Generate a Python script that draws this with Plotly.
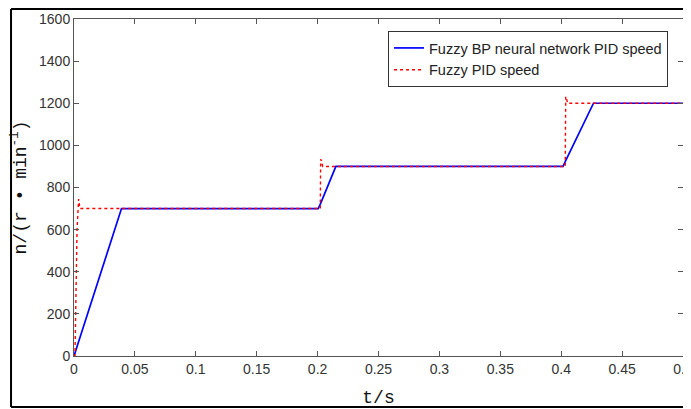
import plotly.graph_objects as go

# Fuzzy BP neural network PID speed
blue_t = [0, 0.039, 0.2005, 0.2025, 0.215, 0.4015, 0.4035, 0.4265, 0.5]
blue_v = [0, 700, 700, 725, 900, 900, 925, 1200, 1200]

# Fuzzy PID speed
red_t = [0, 0.0008, 0.0025, 0.0038, 0.0048, 0.2022, 0.2025, 0.2032, 0.2042, 0.4033, 0.4037, 0.4043, 0.4052, 0.5]
red_v = [0, 0, 600, 745, 700, 700, 934, 928, 900, 900, 1232, 1226, 1200, 1200]

x_ticks = [0, 0.05, 0.1, 0.15, 0.2, 0.25, 0.3, 0.35, 0.4, 0.45, 0.5]
x_tick_text = ["0", "0.05", "0.1", "0.15", "0.2", "0.25", "0.3", "0.35", "0.4", "0.45", "0.5"]
y_ticks = [0, 200, 400, 600, 800, 1000, 1200, 1400, 1600]

fig = go.Figure()
fig.add_trace(go.Scatter(x=blue_t, y=blue_v, mode="lines",
                         name="Fuzzy BP neural network PID speed",
                         line=dict(color="#0000ff", width=1.7)))
fig.add_trace(go.Scatter(x=red_t, y=red_v, mode="lines",
                         name="Fuzzy PID speed",
                         line=dict(color="#ff0000", width=1.4, dash="dot")))

axis_common = dict(showgrid=False, zeroline=False, showline=True, linecolor="#555555",
                   linewidth=1, mirror="ticks", ticks="inside", ticklen=5, automargin=False,
                   tickcolor="#555555", ticklabeloverflow="allow",
                   tickfont=dict(family="Liberation Sans, Arial", size=14, color="#333333"))

title_font = dict(family="Liberation Mono, Courier New", size=18, color="#111111")

fig.update_xaxes(range=[0, 0.5], tickvals=x_ticks, ticktext=x_tick_text,
                 title=dict(text="t/s", font=title_font, standoff=14),
                 **axis_common)
fig.update_yaxes(range=[0, 1600], tickvals=y_ticks,
                 title=dict(text="n/(r • min<sup>-1</sup>)", font=title_font, standoff=12),
                 **axis_common)

# page body has an 8px margin; figure sized/offset so the plot area lands where the reference has it
fig.update_layout(
    width=683, height=401,
    margin=dict(l=66, r=8, t=11, b=53, autoexpand=False),
    plot_bgcolor="white", paper_bgcolor="white",
    showlegend=True,
    legend=dict(x=0.5156, y=0.9644, xanchor="left", yanchor="top",
                bgcolor="white", bordercolor="#333333", borderwidth=1,
                font=dict(family="Liberation Sans, Arial", size=14.5, color="#222"),
                tracegroupgap=0, itemwidth=30),
    shapes=[
        dict(type="line", xref="paper", yref="paper", x0=-0.1034, x1=1.05, y0=1.0297, y1=1.0297,
             line=dict(color="black", width=2)),
        dict(type="line", xref="paper", yref="paper", x0=-0.1034, x1=-0.1034, y0=1.0297, y1=-0.1513,
             line=dict(color="black", width=2)),
        dict(type="line", xref="paper", yref="paper", x0=-0.1034, x1=1.05, y0=-0.1513, y1=-0.1513,
             line=dict(color="black", width=2)),
    ],
)

fig.write_html("out.html")
